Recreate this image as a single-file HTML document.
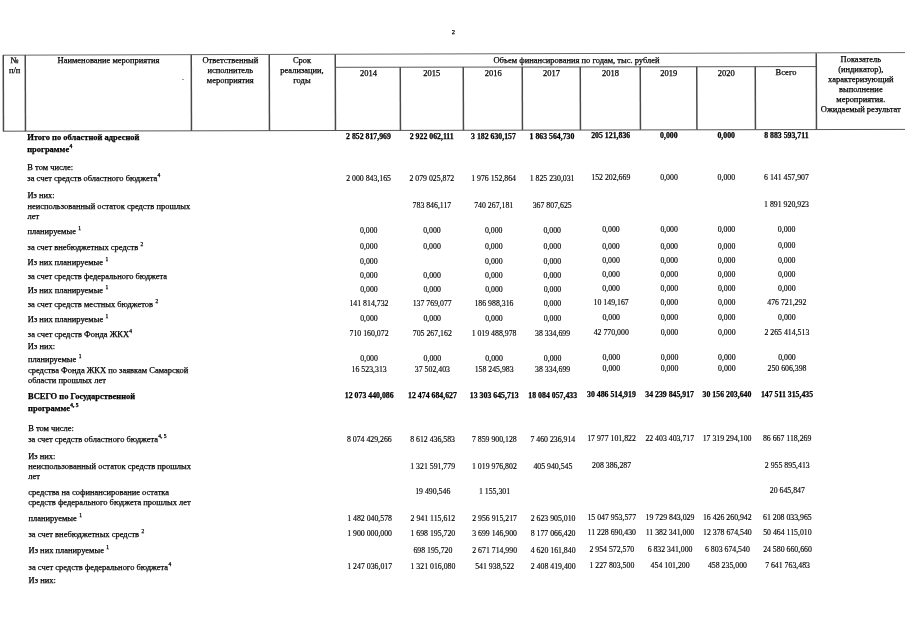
<!DOCTYPE html>
<html><head><meta charset="utf-8"><style>
html,body{margin:0;padding:0;background:#fff;}
body{width:905px;height:640px;position:relative;overflow:hidden;font-family:"Liberation Serif",serif;color:#000;}
#pg{position:absolute;left:0;top:0;width:905px;height:640px;filter:grayscale(1);}
.t{position:absolute;white-space:nowrap;line-height:1;font-size:8.47px;-webkit-text-stroke:0.25px #000;}
.n{font-size:7.8px;-webkit-text-stroke:0.15px #000;}
.b{font-weight:bold;-webkit-text-stroke:0.25px #000;}
.c{width:200px;text-align:center;}
sup{font-size:65%;vertical-align:0;position:relative;top:-0.8em;line-height:0;margin-left:0.3px;}
svg{position:absolute;left:0;top:0;}
</style></head><body><div id="pg">
<svg width="905" height="640" viewBox="0 0 905 640"><line x1="3" y1="55.2" x2="905" y2="52.6" stroke="#666" stroke-width="1"/><line x1="335" y1="67.3" x2="816" y2="66.6" stroke="#555" stroke-width="1"/><line x1="3" y1="131.2" x2="905" y2="129.4" stroke="#555" stroke-width="1"/><line x1="3.25" y1="55" x2="3.4633599999999998" y2="131.2" stroke="#4a4a4a" stroke-width="1.5"/><line x1="25.25" y1="55" x2="25.46336" y2="131.2" stroke="#4a4a4a" stroke-width="1.5"/><line x1="191.25" y1="54.7" x2="191.46336" y2="130.9" stroke="#4a4a4a" stroke-width="1.5"/><line x1="269.25" y1="54.5" x2="269.46336" y2="130.7" stroke="#4a4a4a" stroke-width="1.5"/><line x1="335.25" y1="54.3" x2="335.46336" y2="130.5" stroke="#4a4a4a" stroke-width="1.5"/><line x1="400.25" y1="67.2" x2="400.42696" y2="130.4" stroke="#4a4a4a" stroke-width="1.5"/><line x1="463.25" y1="67.1" x2="463.42696" y2="130.3" stroke="#4a4a4a" stroke-width="1.5"/><line x1="522.25" y1="67" x2="522.42668" y2="130.1" stroke="#4a4a4a" stroke-width="1.5"/><line x1="580.25" y1="66.9" x2="580.42668" y2="130" stroke="#4a4a4a" stroke-width="1.5"/><line x1="640.25" y1="66.8" x2="640.4264" y2="129.8" stroke="#4a4a4a" stroke-width="1.5"/><line x1="696.75" y1="66.8" x2="696.92612" y2="129.7" stroke="#4a4a4a" stroke-width="1.5"/><line x1="755.25" y1="66.7" x2="755.42612" y2="129.6" stroke="#4a4a4a" stroke-width="1.5"/><line x1="816.25" y1="53.3" x2="816.46336" y2="129.5" stroke="#4a4a4a" stroke-width="1.5"/><rect x="182" y="79" width="2" height="1" fill="#9a9a9a"/></svg>
<div class="t c" style="top:29px;font-size:6.5px;left:353.30px;">2</div>
<div class="t c" style="top:56px;left:-85.50px;">№</div>
<div class="t c" style="top:66px;left:-85.30px;">п/п</div>
<div class="t c" style="top:56px;left:8.50px;">Наименование мероприятия</div>
<div class="t c" style="top:56px;left:130.30px;">Ответственный</div>
<div class="t c" style="top:66px;left:130.30px;">исполнитель</div>
<div class="t c" style="top:76px;left:130.30px;">мероприятия</div>
<div class="t c" style="top:56px;left:202.00px;">Срок</div>
<div class="t c" style="top:66px;left:202.00px;">реализации,</div>
<div class="t c" style="top:76px;left:202.00px;">годы</div>
<div class="t c" style="top:56px;left:476.50px;">Объем финансирования по годам, тыс. рублей</div>
<div class="t c" style="top:69px;left:268.50px;">2014</div>
<div class="t c" style="top:69px;left:331.80px;">2015</div>
<div class="t c" style="top:69px;left:393.20px;">2016</div>
<div class="t c" style="top:69px;left:451.50px;">2017</div>
<div class="t c" style="top:69px;left:510.50px;">2018</div>
<div class="t c" style="top:69px;left:568.70px;">2019</div>
<div class="t c" style="top:69px;left:626.20px;">2020</div>
<div class="t c" style="top:68px;left:686.00px;">Всего</div>
<div class="t c" style="top:55px;left:760.80px;">Показатель</div>
<div class="t c" style="top:65px;left:760.80px;">(индикатор),</div>
<div class="t c" style="top:75px;left:760.80px;">характеризующий</div>
<div class="t c" style="top:85px;left:760.80px;">выполнение</div>
<div class="t c" style="top:95px;left:760.80px;">мероприятия.</div>
<div class="t c" style="top:105px;left:760.80px;">Ожидаемый результат</div>
<div class="t b" style="top:133px;left:27.20px;">Итого по областной адресной</div>
<div class="t b" style="top:145px;left:27.24px;">программе<sup>4</sup></div>
<div class="t" style="top:163px;left:27.30px;">В том числе:</div>
<div class="t" style="top:174px;left:27.33px;">за счет средств областного бюджета<sup>4</sup></div>
<div class="t" style="top:191px;left:27.39px;">Из них:</div>
<div class="t" style="top:202px;left:27.42px;">неиспользованный остаток средств прошлых</div>
<div class="t" style="top:212px;left:27.45px;">лет</div>
<div class="t" style="top:227px;left:27.50px;">планируемые <sup>1</sup></div>
<div class="t" style="top:243px;left:27.55px;">за счет внебюджетных средств <sup>2</sup></div>
<div class="t" style="top:258px;left:27.60px;">Из них планируемые <sup>1</sup></div>
<div class="t" style="top:272px;left:27.64px;">за счет средств федерального бюджета</div>
<div class="t" style="top:286px;left:27.69px;">Из них планируемые <sup>1</sup></div>
<div class="t" style="top:300px;left:27.73px;">за счет средств местных бюджетов <sup>2</sup></div>
<div class="t" style="top:315px;left:27.78px;">Из них планируемые <sup>1</sup></div>
<div class="t" style="top:330px;left:27.83px;">за счет средств Фонда ЖКХ<sup>4</sup></div>
<div class="t" style="top:342px;left:27.87px;">Из них:</div>
<div class="t" style="top:355px;left:27.91px;">планируемые <sup>1</sup></div>
<div class="t" style="top:366px;left:27.95px;">средства Фонда ЖКХ по заявкам Самарской</div>
<div class="t" style="top:376px;left:27.98px;">области прошлых лет</div>
<div class="t b" style="top:392px;left:28.03px;">ВСЕГО по Государственной</div>
<div class="t b" style="top:404px;left:28.07px;">программе<sup>4, 5</sup></div>
<div class="t" style="top:424px;left:28.13px;">В том числе:</div>
<div class="t" style="top:435px;left:28.17px;">за счет средств областного бюджета<sup>4, 5</sup></div>
<div class="t" style="top:452px;left:28.22px;">Из них:</div>
<div class="t" style="top:462px;left:28.25px;">неиспользованный остаток средств прошлых</div>
<div class="t" style="top:472px;left:28.28px;">лет</div>
<div class="t" style="top:488px;left:28.34px;">средства на софинансирование остатка</div>
<div class="t" style="top:498px;left:28.37px;">средств федерального бюджета прошлых лет</div>
<div class="t" style="top:514px;left:28.42px;">планируемые <sup>1</sup></div>
<div class="t" style="top:530px;left:28.47px;">за счет внебюджетных средств <sup>2</sup></div>
<div class="t" style="top:546px;left:28.52px;">Из них планируемые <sup>1</sup></div>
<div class="t" style="top:563px;left:28.58px;">за счет средств федерального бюджета<sup>4</sup></div>
<div class="t" style="top:576px;left:28.62px;">Из них:</div>
<div class="t n b c" style="top:133px;left:268.50px;">2 852 817,969</div>
<div class="t n b c" style="top:133px;left:331.75px;">2 922 062,111</div>
<div class="t n b c" style="top:133px;left:393.50px;">3 182 630,157</div>
<div class="t n b c" style="top:133px;left:452.00px;">1 863 564,730</div>
<div class="t n b c" style="top:132px;left:510.70px;">205 121,836</div>
<div class="t n b c" style="top:132px;left:568.90px;">0,000</div>
<div class="t n b c" style="top:132px;left:626.25px;">0,000</div>
<div class="t n b c" style="top:132px;left:686.35px;">8 883 593,711</div>
<div class="t n c" style="top:175px;left:268.62px;">2 000 843,165</div>
<div class="t n c" style="top:175px;left:331.87px;">2 079 025,872</div>
<div class="t n c" style="top:175px;left:393.62px;">1 976 152,864</div>
<div class="t n c" style="top:175px;left:452.12px;">1 825 230,031</div>
<div class="t n c" style="top:174px;left:510.82px;">152 202,669</div>
<div class="t n c" style="top:174px;left:569.02px;">0,000</div>
<div class="t n c" style="top:174px;left:626.37px;">0,000</div>
<div class="t n c" style="top:174px;left:686.47px;">6 141 457,907</div>
<div class="t n c" style="top:202px;left:331.94px;">783 846,117</div>
<div class="t n c" style="top:202px;left:393.69px;">740 267,181</div>
<div class="t n c" style="top:202px;left:452.19px;">367 807,625</div>
<div class="t n c" style="top:201px;left:686.54px;">1 891 920,923</div>
<div class="t n c" style="top:227px;left:268.76px;">0,000</div>
<div class="t n c" style="top:227px;left:332.01px;">0,000</div>
<div class="t n c" style="top:227px;left:393.76px;">0,000</div>
<div class="t n c" style="top:227px;left:452.26px;">0,000</div>
<div class="t n c" style="top:226px;left:510.96px;">0,000</div>
<div class="t n c" style="top:226px;left:569.16px;">0,000</div>
<div class="t n c" style="top:226px;left:626.51px;">0,000</div>
<div class="t n c" style="top:226px;left:686.61px;">0,000</div>
<div class="t n c" style="top:243px;left:268.81px;">0,000</div>
<div class="t n c" style="top:243px;left:332.06px;">0,000</div>
<div class="t n c" style="top:243px;left:393.81px;">0,000</div>
<div class="t n c" style="top:243px;left:452.31px;">0,000</div>
<div class="t n c" style="top:243px;left:511.01px;">0,000</div>
<div class="t n c" style="top:243px;left:569.21px;">0,000</div>
<div class="t n c" style="top:243px;left:626.56px;">0,000</div>
<div class="t n c" style="top:242px;left:686.66px;">0,000</div>
<div class="t n c" style="top:258px;left:268.85px;">0,000</div>
<div class="t n c" style="top:258px;left:393.85px;">0,000</div>
<div class="t n c" style="top:258px;left:452.35px;">0,000</div>
<div class="t n c" style="top:257px;left:511.05px;">0,000</div>
<div class="t n c" style="top:257px;left:569.25px;">0,000</div>
<div class="t n c" style="top:257px;left:626.60px;">0,000</div>
<div class="t n c" style="top:257px;left:686.70px;">0,000</div>
<div class="t n c" style="top:272px;left:268.89px;">0,000</div>
<div class="t n c" style="top:272px;left:332.14px;">0,000</div>
<div class="t n c" style="top:272px;left:393.89px;">0,000</div>
<div class="t n c" style="top:272px;left:452.39px;">0,000</div>
<div class="t n c" style="top:271px;left:511.09px;">0,000</div>
<div class="t n c" style="top:271px;left:569.29px;">0,000</div>
<div class="t n c" style="top:271px;left:626.64px;">0,000</div>
<div class="t n c" style="top:271px;left:686.74px;">0,000</div>
<div class="t n c" style="top:286px;left:268.93px;">0,000</div>
<div class="t n c" style="top:286px;left:332.18px;">0,000</div>
<div class="t n c" style="top:286px;left:393.93px;">0,000</div>
<div class="t n c" style="top:286px;left:452.43px;">0,000</div>
<div class="t n c" style="top:285px;left:511.13px;">0,000</div>
<div class="t n c" style="top:285px;left:569.33px;">0,000</div>
<div class="t n c" style="top:285px;left:626.68px;">0,000</div>
<div class="t n c" style="top:285px;left:686.78px;">0,000</div>
<div class="t n c" style="top:300px;left:268.97px;">141 814,732</div>
<div class="t n c" style="top:300px;left:332.22px;">137 769,077</div>
<div class="t n c" style="top:300px;left:393.97px;">186 988,316</div>
<div class="t n c" style="top:300px;left:452.47px;">0,000</div>
<div class="t n c" style="top:299px;left:511.17px;">10 149,167</div>
<div class="t n c" style="top:299px;left:569.37px;">0,000</div>
<div class="t n c" style="top:299px;left:626.72px;">0,000</div>
<div class="t n c" style="top:299px;left:686.82px;">476 721,292</div>
<div class="t n c" style="top:315px;left:269.01px;">0,000</div>
<div class="t n c" style="top:315px;left:332.26px;">0,000</div>
<div class="t n c" style="top:315px;left:394.01px;">0,000</div>
<div class="t n c" style="top:315px;left:452.51px;">0,000</div>
<div class="t n c" style="top:314px;left:511.21px;">0,000</div>
<div class="t n c" style="top:314px;left:569.41px;">0,000</div>
<div class="t n c" style="top:314px;left:626.76px;">0,000</div>
<div class="t n c" style="top:314px;left:686.86px;">0,000</div>
<div class="t n c" style="top:330px;left:269.05px;">710 160,072</div>
<div class="t n c" style="top:330px;left:332.30px;">705 267,162</div>
<div class="t n c" style="top:330px;left:394.05px;">1 019 488,978</div>
<div class="t n c" style="top:330px;left:452.55px;">38 334,699</div>
<div class="t n c" style="top:329px;left:511.25px;">42 770,000</div>
<div class="t n c" style="top:329px;left:569.45px;">0,000</div>
<div class="t n c" style="top:329px;left:626.80px;">0,000</div>
<div class="t n c" style="top:329px;left:686.90px;">2 265 414,513</div>
<div class="t n c" style="top:355px;left:269.12px;">0,000</div>
<div class="t n c" style="top:355px;left:332.37px;">0,000</div>
<div class="t n c" style="top:355px;left:394.12px;">0,000</div>
<div class="t n c" style="top:355px;left:452.62px;">0,000</div>
<div class="t n c" style="top:354px;left:511.32px;">0,000</div>
<div class="t n c" style="top:354px;left:569.52px;">0,000</div>
<div class="t n c" style="top:354px;left:626.87px;">0,000</div>
<div class="t n c" style="top:354px;left:686.97px;">0,000</div>
<div class="t n c" style="top:366px;left:269.15px;">16 523,313</div>
<div class="t n c" style="top:366px;left:332.40px;">37 502,403</div>
<div class="t n c" style="top:366px;left:394.15px;">158 245,983</div>
<div class="t n c" style="top:366px;left:452.65px;">38 334,699</div>
<div class="t n c" style="top:365px;left:511.35px;">0,000</div>
<div class="t n c" style="top:365px;left:569.55px;">0,000</div>
<div class="t n c" style="top:365px;left:626.90px;">0,000</div>
<div class="t n c" style="top:365px;left:687.00px;">250 606,398</div>
<div class="t n b c" style="top:392px;left:269.23px;">12 073 440,086</div>
<div class="t n b c" style="top:392px;left:332.48px;">12 474 684,627</div>
<div class="t n b c" style="top:392px;left:394.23px;">13 303 645,713</div>
<div class="t n b c" style="top:392px;left:452.73px;">18 084 057,433</div>
<div class="t n b c" style="top:391px;left:511.43px;">30 486 514,919</div>
<div class="t n b c" style="top:391px;left:569.63px;">34 239 845,917</div>
<div class="t n b c" style="top:391px;left:626.98px;">30 156 203,640</div>
<div class="t n b c" style="top:391px;left:687.08px;">147 511 315,435</div>
<div class="t n c" style="top:436px;left:269.35px;">8 074 429,266</div>
<div class="t n c" style="top:436px;left:332.60px;">8 612 436,583</div>
<div class="t n c" style="top:436px;left:394.35px;">7 859 900,128</div>
<div class="t n c" style="top:436px;left:452.85px;">7 460 236,914</div>
<div class="t n c" style="top:435px;left:511.55px;">17 977 101,822</div>
<div class="t n c" style="top:435px;left:569.75px;">22 403 403,717</div>
<div class="t n c" style="top:435px;left:627.10px;">17 319 294,100</div>
<div class="t n c" style="top:435px;left:687.20px;">86 667 118,269</div>
<div class="t n c" style="top:463px;left:332.67px;">1 321 591,779</div>
<div class="t n c" style="top:463px;left:394.42px;">1 019 976,802</div>
<div class="t n c" style="top:463px;left:452.92px;">405 940,545</div>
<div class="t n c" style="top:462px;left:511.62px;">208 386,287</div>
<div class="t n c" style="top:462px;left:687.27px;">2 955 895,413</div>
<div class="t n c" style="top:488px;left:332.74px;">19 490,546</div>
<div class="t n c" style="top:488px;left:394.49px;">1 155,301</div>
<div class="t n c" style="top:487px;left:687.34px;">20 645,847</div>
<div class="t n c" style="top:515px;left:269.57px;">1 482 040,578</div>
<div class="t n c" style="top:515px;left:332.82px;">2 941 115,612</div>
<div class="t n c" style="top:515px;left:394.57px;">2 956 915,217</div>
<div class="t n c" style="top:515px;left:453.07px;">2 623 905,010</div>
<div class="t n c" style="top:514px;left:511.77px;">15 047 953,577</div>
<div class="t n c" style="top:514px;left:569.97px;">19 729 843,029</div>
<div class="t n c" style="top:514px;left:627.32px;">16 426 260,942</div>
<div class="t n c" style="top:514px;left:687.42px;">61 208 033,965</div>
<div class="t n c" style="top:530px;left:269.61px;">1 900 000,000</div>
<div class="t n c" style="top:530px;left:332.86px;">1 698 195,720</div>
<div class="t n c" style="top:530px;left:394.61px;">3 699 146,900</div>
<div class="t n c" style="top:530px;left:453.11px;">8 177 066,420</div>
<div class="t n c" style="top:529px;left:511.81px;">11 228 690,430</div>
<div class="t n c" style="top:529px;left:570.01px;">11 382 341,000</div>
<div class="t n c" style="top:529px;left:627.36px;">12 378 674,540</div>
<div class="t n c" style="top:529px;left:687.46px;">50 464 115,010</div>
<div class="t n c" style="top:547px;left:332.91px;">698 195,720</div>
<div class="t n c" style="top:547px;left:394.66px;">2 671 714,990</div>
<div class="t n c" style="top:547px;left:453.16px;">4 620 161,840</div>
<div class="t n c" style="top:546px;left:511.86px;">2 954 572,570</div>
<div class="t n c" style="top:546px;left:570.06px;">6 832 341,000</div>
<div class="t n c" style="top:546px;left:627.41px;">6 803 674,540</div>
<div class="t n c" style="top:546px;left:687.51px;">24 580 660,660</div>
<div class="t n c" style="top:563px;left:269.70px;">1 247 036,017</div>
<div class="t n c" style="top:563px;left:332.95px;">1 321 016,080</div>
<div class="t n c" style="top:563px;left:394.70px;">541 938,522</div>
<div class="t n c" style="top:563px;left:453.20px;">2 408 419,400</div>
<div class="t n c" style="top:562px;left:511.90px;">1 227 803,500</div>
<div class="t n c" style="top:562px;left:570.10px;">454 101,200</div>
<div class="t n c" style="top:562px;left:627.45px;">458 235,000</div>
<div class="t n c" style="top:562px;left:687.55px;">7 641 763,483</div>
</div></body></html>
